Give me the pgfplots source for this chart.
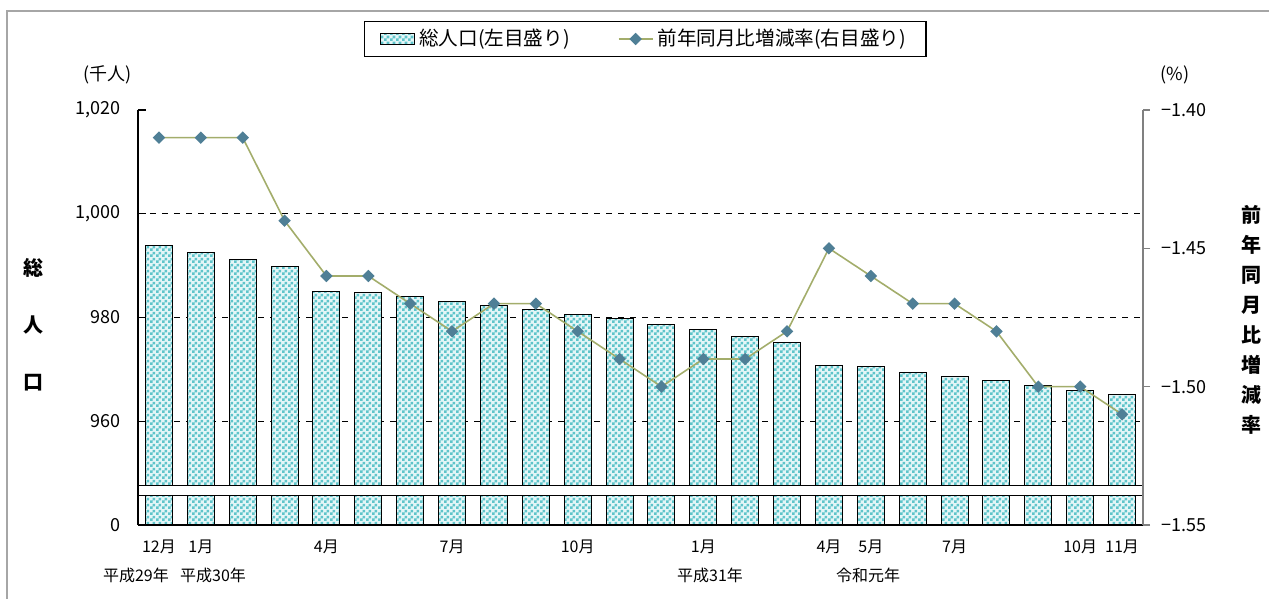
\documentclass[border=0pt]{standalone}
\usepackage{fontspec}
\setmainfont{Noto Sans CJK JP}
\usepackage{pgfplots}
\usepackage{pgfplotstable}
\pgfplotsset{compat=1.18}
\usetikzlibrary{patterns}

\pgfdeclarepatternformonly{smallcheck}{\pgfqpoint{0pt}{0pt}}{\pgfqpoint{3pt}{3pt}}{\pgfqpoint{3pt}{3pt}}{%
  \pgfpathrectangle{\pgfqpoint{0pt}{0pt}}{\pgfqpoint{1.5pt}{1.5pt}}%
  \pgfpathrectangle{\pgfqpoint{1.5pt}{1.5pt}}{\pgfqpoint{1.5pt}{1.5pt}}%
  \pgfusepath{fill}}

\definecolor{chk}{HTML}{5EC4CA}
\definecolor{chkbg}{HTML}{E4F6F7}
\definecolor{linec}{HTML}{A3AD6B}
\definecolor{markc}{HTML}{4F7F96}

\pgfplotstableread{
x pop rate
0 993.8 -1.41
1 992.5 -1.41
2 991.2 -1.41
3 989.8 -1.44
4 985.0 -1.46
5 984.8 -1.46
6 984.0 -1.47
7 983.1 -1.48
8 982.3 -1.47
9 981.6 -1.47
10 980.6 -1.48
11 979.8 -1.49
12 978.7 -1.50
13 977.7 -1.49
14 976.4 -1.49
15 975.2 -1.48
16 970.7 -1.45
17 970.5 -1.46
18 969.4 -1.47
19 968.6 -1.47
20 967.8 -1.48
21 966.9 -1.50
22 965.9 -1.50
23 965.1 -1.51
}\data

\begin{document}
\begin{tikzpicture}
\begin{axis}[
  at={(0,0)}, anchor=south west,
  scale only axis, width=502.5pt, height=207.5pt,
  xmin=-0.5, xmax=23.5, ymin=940, ymax=1020,
  axis x line*=bottom, axis y line*=left,
  axis line style={black, line width=0.7pt},
  ytick={940,960,980,1000,1020},
  yticklabels={0,960,980,{1,000},{1,020}},
  xtick={0,1,4,7,10,13,16,17,19,22,23},
  xticklabels={12月,1月,4月,7月,10月,1月,4月,5月,7月,10月,11月},
  x tick style={draw=none},
  y tick style={black, line width=0.6pt},
  tick align=inside, major tick length=4pt,
  extra y ticks={960,980,1000},
  extra y tick labels={},
  extra y tick style={grid=major, major grid style={dashed, black, line width=0.5pt}, tick style={draw=none}},
  yticklabel style={font=\fontsize{9}{10}\selectfont, xshift=-5pt},
  xticklabel style={font=\fontsize{8}{9}\selectfont, yshift=-4pt},
  /pgf/number format/assume math mode=true,
]
\addplot[ybar, bar width=13.5pt, draw=black, line width=0.5pt, fill=chkbg,
  postaction={pattern=smallcheck, pattern color=chk}] table[x=x,y=pop]{\data};
\draw[fill=white, draw=black, line width=0.45pt] (axis cs:-0.5,945.6) rectangle (axis cs:23.5,947.7);
\end{axis}

\begin{axis}[
  at={(0,0)}, anchor=south west,
  scale only axis, width=502.5pt, height=207.5pt,
  xmin=-0.5, xmax=23.5, ymin=-1.55, ymax=-1.40,
  axis x line=none, axis y line*=right,
  axis line style={gray, line width=0.7pt},
  ytick={-1.55,-1.50,-1.45,-1.40},
  yticklabels={−1.55,−1.50,−1.45,−1.40},
  tick align=outside, major tick length=3.5pt,
  y tick style={gray, line width=0.6pt},
  yticklabel style={font=\fontsize{9}{10}\selectfont, xshift=2pt},
  legend columns=2,
  legend style={at={(0.5045,1.171)}, anchor=center, draw=black, line width=0.6pt,
    font=\fontsize{9.8}{11}\selectfont, inner xsep=8pt, inner ysep=2pt,
    /tikz/every even column/.append style={column sep=22pt}},
]
\addlegendimage{area legend, draw=black, line width=0.5pt, fill=chkbg, postaction={pattern=smallcheck, pattern color=chk}}
\addlegendentry{総人口(左目盛り)}
\addplot[color=linec, line width=0.8pt, mark=square*, mark size=1.8pt,
  mark options={rotate=45, fill=markc, draw=markc}] table[x=x,y=rate]{\data};
\addlegendentry{前年同月比増減率(右目盛り)}
\end{axis}

\node[font=\fontsize{8}{9}\selectfont] at (-1pt,-25pt) {平成29年};
\node[font=\fontsize{8}{9}\selectfont] at (37.5pt,-25pt) {平成30年};
\node[font=\fontsize{8}{9}\selectfont] at (286pt,-25pt) {平成31年};
\node[font=\fontsize{8}{9}\selectfont] at (365pt,-25pt) {令和元年};

\node[font=\fontsize{9}{10}\selectfont] at (-15pt,225pt) {(千人)};
\node[font=\fontsize{9}{10}\selectfont] at (518.5pt,225pt) {(\%)};

\node[font=\fontsize{10}{28.5}\selectfont\bfseries, align=center] at (-52pt,100pt) {総\\人\\口};
\node[font=\fontsize{10}{15}\selectfont\bfseries, align=center] at (556.5pt,102.5pt) {前\\年\\同\\月\\比\\増\\減\\率};

\draw[gray!70, line width=0.6pt] (-65.5pt,-45pt) -- (-65.5pt,257pt) -- (575pt,257pt);

\pgfresetboundingbox
\path[use as bounding box] (-69pt,-37pt) rectangle (565.5pt,262.5pt);
\end{tikzpicture}
\end{document}
